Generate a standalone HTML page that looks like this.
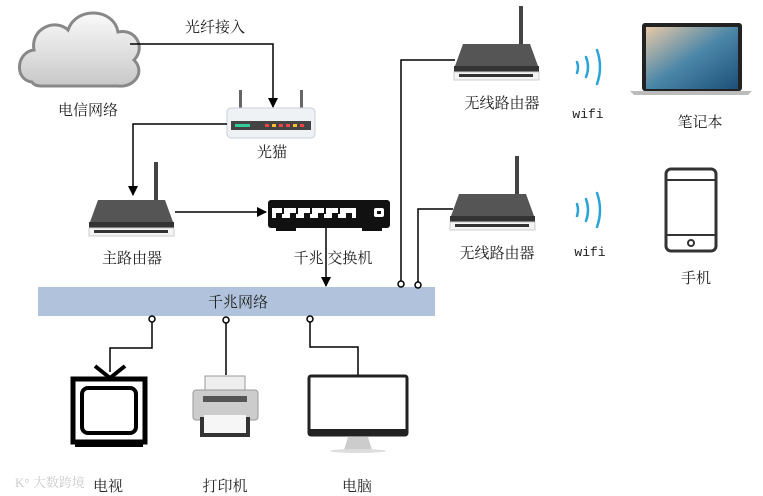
<!DOCTYPE html>
<html><head><meta charset="utf-8"><style>
body{margin:0;background:#fff}
svg{display:block}
text{font-family:"Liberation Serif","Noto Serif CJK SC","Noto Sans CJK SC",serif;font-size:15px;fill:#222}
</style></head><body>
<svg width="763" height="496" viewBox="0 0 763 496" xmlns="http://www.w3.org/2000/svg">
<defs>
<marker id="ar" markerWidth="10" markerHeight="10" refX="9" refY="5" orient="auto" markerUnits="userSpaceOnUse"><path d="M0,0 L10,5 L0,10 z" fill="#000"/></marker>
<linearGradient id="cg" x1="0" y1="0" x2="0" y2="1"><stop offset="0" stop-color="#fafafa"/><stop offset="1" stop-color="#c8c8c8"/></linearGradient>
<linearGradient id="sc" x1="0" y1="0" x2="1" y2="1"><stop offset="0" stop-color="#e8c9a8"/><stop offset="0.5" stop-color="#4a86a8"/><stop offset="1" stop-color="#1d4f78"/></linearGradient>
</defs>
<!-- cloud -->
<path d="M32,82 C14,80 16,52 34,50 C30,28 56,18 68,30 C76,6 114,8 118,32 C136,28 146,48 134,60 C146,72 134,88 118,86 L40,86 C36,86 33,84 32,82 Z" fill="url(#cg)" stroke="#888" stroke-width="3"/>
<text x="88" y="115" text-anchor="middle">电信网络</text>
<!-- fiber -->
<polyline points="130,44 273,44 273,107" fill="none" stroke="#000" stroke-width="1.5" marker-end="url(#ar)"/>
<text x="215" y="32" text-anchor="middle">光纤接入</text>
<!-- modem -->
<rect x="239" y="90" width="3" height="18" fill="#666"/><rect x="300" y="90" width="3" height="18" fill="#666"/>
<rect x="227" y="108" width="88" height="30" rx="4" fill="#eef2f5" stroke="#ccd" />
<rect x="231" y="121" width="80" height="9" fill="#444"/>
<rect x="235" y="124" width="15" height="3" fill="#3c9"/>
<rect x="265" y="124" width="4" height="3" fill="#e44"/><rect x="272" y="124" width="4" height="3" fill="#fb3"/><rect x="279" y="124" width="4" height="3" fill="#e44"/><rect x="286" y="124" width="4" height="3" fill="#e44"/><rect x="293" y="124" width="4" height="3" fill="#fb3"/><rect x="300" y="124" width="4" height="3" fill="#e44"/>
<text x="272" y="157" text-anchor="middle">光猫</text>
<polyline points="227,124 133,124 133,195" fill="none" stroke="#000" stroke-width="1.5" marker-end="url(#ar)"/>
<!-- main router -->
<g id="rt">
<rect x="154" y="162" width="4" height="40" fill="#444"/>
<path d="M98,200 L165,200 L173,222 L90,222 Z" fill="#555"/>
<rect x="89" y="222" width="85" height="6" fill="#333"/>
<rect x="89" y="228" width="85" height="8" fill="#f4f4f4" stroke="#ccc"/>
<rect x="94" y="230" width="74" height="3" fill="#333"/>
</g>
<text x="132" y="263" text-anchor="middle">主路由器</text>
<line x1="175" y1="212" x2="266" y2="212" stroke="#000" stroke-width="1.5" marker-end="url(#ar)"/>
<!-- switch -->
<rect x="276" y="227" width="20" height="4" fill="#111"/><rect x="362" y="227" width="20" height="4" fill="#111"/>
<rect x="268" y="200" width="122" height="28" rx="3" fill="#111"/>
<g fill="#fff"><rect x="272" y="208" width="84" height="10"/></g>
<g fill="#111"><rect x="282" y="208" width="2" height="6"/><rect x="296" y="208" width="2" height="6"/><rect x="310" y="208" width="2" height="6"/><rect x="324" y="208" width="2" height="6"/><rect x="338" y="208" width="2" height="6"/>
<rect x="276" y="213" width="6" height="5"/><rect x="290" y="213" width="6" height="5"/><rect x="304" y="213" width="6" height="5"/><rect x="318" y="213" width="6" height="5"/><rect x="332" y="213" width="6" height="5"/><rect x="346" y="213" width="6" height="5"/></g>
<rect x="374" y="208" width="10" height="9" rx="2" fill="#fff"/><rect x="377" y="211" width="4" height="3" fill="#111"/>
<text x="333" y="263" text-anchor="middle">千兆 交换机</text>
<line x1="326" y1="228" x2="326" y2="286" stroke="#000" stroke-width="1.5" marker-end="url(#ar)"/>
<!-- bar -->
<rect x="38" y="287" width="397" height="29" fill="#b1c3dc"/>
<text x="238" y="307" text-anchor="middle">千兆网络</text>
<!-- right lines -->
<polyline points="401,283 401,60 455,60" fill="none" stroke="#000" stroke-width="1.5"/>
<polyline points="418,283 418,209 453,209" fill="none" stroke="#000" stroke-width="1.5"/>
<circle cx="401" cy="284" r="3" fill="#fff" stroke="#000" stroke-width="1.5"/>
<circle cx="418" cy="285" r="3" fill="#fff" stroke="#000" stroke-width="1.5"/>
<!-- wireless routers -->
<use href="#rt" transform="translate(365,-156)"/>
<use href="#rt" transform="translate(361,-6)"/>
<text x="502" y="108" text-anchor="middle">无线路由器</text>
<text x="497" y="258" text-anchor="middle">无线路由器</text>
<!-- wifi -->
<g fill="none" stroke="#2aa3d6" stroke-width="2.5" stroke-linecap="round">
<path d="M577,62 Q579,67 577,73"/><path d="M586,57 Q590,67 586,77"/><path d="M597,50 Q603,67 597,84"/>
<path d="M577,204 Q579,210 577,216"/><path d="M586,199 Q590,210 586,221"/><path d="M597,193 Q603,210 597,227"/>
</g>
<text x="588" y="118" text-anchor="middle" style="font-family:'Liberation Mono',monospace;font-size:13px">wifi</text>
<text x="590" y="256" text-anchor="middle" style="font-family:'Liberation Mono',monospace;font-size:13px">wifi</text>
<!-- laptop -->
<rect x="642" y="23" width="100" height="68" rx="3" fill="#222"/>
<rect x="646" y="27" width="92" height="62" fill="url(#sc)"/>
<path d="M630,91 L752,91 L748,95 L634,95 Z" fill="#bbb"/>
<text x="700" y="127" text-anchor="middle">笔记本</text>
<!-- phone -->
<rect x="666" y="169" width="50" height="82" rx="5" fill="#fff" stroke="#333" stroke-width="3"/>
<line x1="666" y1="180" x2="716" y2="180" stroke="#333" stroke-width="2"/>
<line x1="666" y1="235" x2="716" y2="235" stroke="#333" stroke-width="2"/>
<circle cx="691" cy="243" r="3" fill="none" stroke="#333" stroke-width="2"/>
<text x="696" y="283" text-anchor="middle">手机</text>
<!-- bottom connections -->
<polyline points="152,322 152,348 110,348 110,372" fill="none" stroke="#000" stroke-width="1.5"/>
<line x1="226" y1="323" x2="226" y2="375" stroke="#000" stroke-width="1.5"/>
<polyline points="310,322 310,347 358,347 358,376" fill="none" stroke="#000" stroke-width="1.5"/>
<circle cx="152" cy="319" r="3" fill="#fff" stroke="#000" stroke-width="1.5"/>
<circle cx="226" cy="320" r="3" fill="#fff" stroke="#000" stroke-width="1.5"/>
<circle cx="310" cy="319" r="3" fill="#fff" stroke="#000" stroke-width="1.5"/>
<!-- TV -->
<path d="M95,366 L110,378 L125,366" fill="none" stroke="#000" stroke-width="4"/>
<rect x="73" y="379" width="72" height="63" fill="none" stroke="#000" stroke-width="5"/>
<rect x="82" y="388" width="54" height="45" rx="6" fill="none" stroke="#000" stroke-width="4"/>
<rect x="75" y="443" width="68" height="4" fill="#000"/>
<!-- printer -->
<rect x="205" y="376" width="40" height="14" fill="#eee" stroke="#999"/>
<rect x="193" y="390" width="65" height="30" rx="3" fill="#ccc" stroke="#999"/>
<rect x="203" y="396" width="44" height="6" fill="#555"/>
<rect x="200" y="417" width="50" height="20" fill="#333"/>
<rect x="204" y="415" width="42" height="18" fill="#f6f6f6"/>
<!-- monitor -->
<rect x="309" y="376" width="98" height="59" rx="2" fill="#fff" stroke="#222" stroke-width="3"/>
<rect x="309" y="429" width="98" height="7" fill="#222"/>
<path d="M348,437 L368,437 L372,450 L344,450 Z" fill="#ccc"/>
<ellipse cx="358" cy="451" rx="28" ry="2" fill="#ddd"/>
<text x="15" y="487" style="font-size:13px;fill:#ccc">K° 大数跨境</text>
<text x="108" y="491" text-anchor="middle">电视</text>
<text x="225" y="491" text-anchor="middle">打印机</text>
<text x="357" y="491" text-anchor="middle">电脑</text>
</svg>
</body></html>
